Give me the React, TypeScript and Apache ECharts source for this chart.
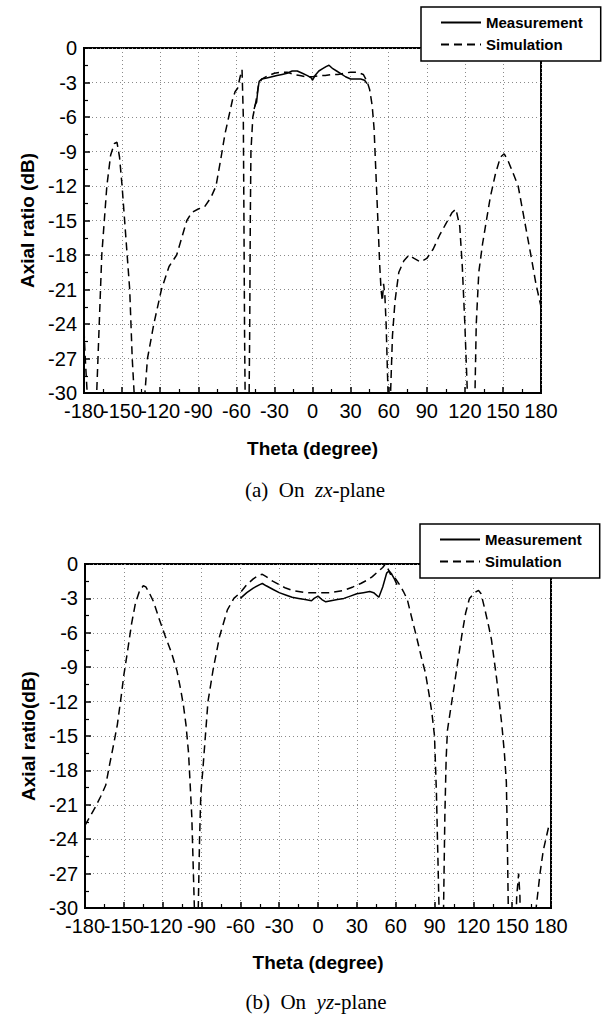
import React, { useEffect, useRef } from "react";
import * as echarts from "echarts";

// ---------- data (theta in degrees, axial ratio in dB) ----------
const xTicks = [-180, -150, -120, -90, -60, -30, 0, 30, 60, 90, 120, 150, 180];
const yTicks = [0, -3, -6, -9, -12, -15, -18, -21, -24, -27, -30];
const seriesNames = ["Measurement", "Simulation"];

// (a) zx-plane
const zxMeasurement: number[][] = [
  [-46, -5.3], [-45, -4.9], [-44, -4.7], [-43, -3.6], [-42, -2.9], [-40, -2.7],
  [-36, -2.6], [-32, -2.5], [-28, -2.4], [-24, -2.3], [-20, -2.2], [-16, -2.0],
  [-12, -2.0], [-8, -2.2], [-4, -2.4], [-1, -2.6], [0, -2.8], [2, -2.4],
  [5, -2.0], [8, -1.8], [11, -1.6], [13, -1.5], [16, -1.8], [19, -2.0],
  [22, -2.2], [26, -2.5], [30, -2.7], [34, -2.7], [38, -2.7], [41, -2.8], [43, -3.1],
];
const zxSimulation: number[][] = [
  [-180, -24.5], [-179, -27], [-177.5, -30], [-177, -33], [-171, -33], [-170, -30],
  [-169, -27], [-168, -24], [-166, -18], [-164, -15], [-162, -12], [-159, -9.3],
  [-156, -8.3], [-154, -8.2], [-152, -9.5], [-150, -12], [-148, -15], [-146, -18],
  [-144, -21], [-143, -24], [-142, -27], [-140.5, -30], [-139, -33], [-134, -33],
  [-132, -30], [-130, -27], [-125, -24], [-119, -21], [-113, -19], [-107, -18],
  [-103, -16.5], [-99, -15], [-95, -14.3], [-90, -14], [-85, -13.8], [-80, -13],
  [-76, -12], [-72, -9.5], [-69, -7.5], [-66, -6], [-63, -4.5], [-61, -3.8],
  [-59, -3.5], [-57, -2.5], [-55.5, -1.9], [-54.5, -6], [-54, -15], [-53.5, -25],
  [-53, -31], [-50, -31], [-49.5, -25], [-49, -15], [-48.5, -9], [-47, -6],
  [-45.5, -5.2], [-44, -4.3], [-42.5, -3.2], [-40, -2.7], [-35, -2.4], [-30, -2.2],
  [-25, -2.1], [-20, -2.1], [-15, -2.3], [-10, -2.4], [-5, -2.5], [0, -2.5],
  [5, -2.4], [10, -2.4], [15, -2.3], [20, -2.3], [25, -2.2], [30, -2.1],
  [35, -2.1], [40, -2.3], [43, -2.9], [45, -3.6], [47, -5], [48.5, -7],
  [50, -11], [51.5, -15], [53, -19], [54, -21], [55, -22], [56, -20.5],
  [57, -21.5], [58, -24], [59.5, -30], [60.5, -33], [61.5, -30], [63, -25],
  [65, -22], [68, -19.5], [72, -18.5], [76, -18], [80, -18.3], [85, -18.6],
  [90, -18.3], [95, -17.5], [100, -16.3], [105, -15.3], [110, -14.3], [113, -14],
  [116, -15.5], [118, -19], [120, -24], [122, -30], [123, -33], [127, -33],
  [128, -30], [129, -24], [131, -19.5], [134, -17], [137, -15], [140, -13],
  [144, -11], [148, -9.5], [151, -9.2], [154, -9.8], [157, -10.6], [162, -12],
  [167, -15], [172, -18], [176, -20.5], [180, -22.5],
];

// (b) yz-plane
const yzMeasurement: number[][] = [
  [-60, -3.0], [-55, -2.5], [-50, -2.1], [-45, -1.8], [-43, -1.7], [-40, -1.9],
  [-35, -2.2], [-30, -2.5], [-25, -2.7], [-20, -2.9], [-15, -3.0], [-10, -3.1],
  [-5, -3.2], [-3, -3.0], [0, -2.8], [3, -3.1], [6, -3.3], [10, -3.2],
  [15, -3.1], [20, -3.0], [25, -2.8], [30, -2.6], [35, -2.5], [40, -2.4],
  [43, -2.5], [47, -2.9], [50, -2.0], [53, -0.8], [55, -0.6], [57, -0.9],
  [59, -1.3], [61, -1.8],
];
const yzSimulation: number[][] = [
  [-180, -22.8], [-176, -22], [-172, -21.2], [-168, -20.3], [-164, -19.3],
  [-161, -17.5], [-158, -15.8], [-155, -14], [-152, -11.5], [-150, -9.7],
  [-147, -7.5], [-144, -5.2], [-141, -3.4], [-138, -2.4], [-135, -1.9],
  [-133, -2.0], [-130, -2.6], [-127, -3.3], [-123, -4.7], [-118, -6.3],
  [-113, -7.8], [-109, -9.3], [-106, -11], [-104, -12.3], [-102, -14],
  [-100, -16.5], [-99, -18.7], [-97.5, -22], [-96.5, -26], [-95.5, -30],
  [-95, -33], [-93, -33], [-92.5, -30], [-91.5, -24], [-90.5, -20], [-89, -18],
  [-87, -15], [-85, -12], [-81, -9.2], [-76, -6.3], [-70, -4], [-65, -3.0],
  [-60, -2.5], [-55, -1.8], [-50, -1.3], [-46, -1.0], [-43, -0.9], [-40, -1.1],
  [-35, -1.5], [-30, -1.8], [-25, -2.1], [-20, -2.3], [-10, -2.5], [0, -2.5],
  [10, -2.5], [20, -2.3], [27, -2.0], [33, -1.7], [38, -1.4], [42, -1.1],
  [46, -0.7], [50, -0.3], [52, 0], [54, -0.4], [56, -0.9], [58, -0.9],
  [60, -1.3], [63, -1.8], [66, -2.4], [69, -3.1], [72, -4.5], [76, -6.3],
  [80, -8.2], [83, -9.5], [86, -11.5], [88, -13], [90, -15], [91.5, -20],
  [92.5, -25], [93.5, -30], [94, -33], [96, -33], [97, -30], [98, -22],
  [99, -17], [100, -14.5], [102, -13], [105, -10.8], [108, -8.5], [111, -6.3],
  [114, -4.3], [117, -3.0], [121, -2.5], [124, -2.3], [126, -2.6], [129, -4],
  [132, -5.5], [134, -6.6], [136, -8.3], [138, -10], [140, -12], [142, -14],
  [144, -16.5], [145.5, -19], [146, -22], [146.5, -26], [147, -30], [147.5, -33],
  [152.5, -33], [153.5, -29], [155, -27], [156, -29], [156.5, -33], [167, -33],
  [168.5, -30], [171.5, -27], [174, -25], [176, -24], [178, -23], [180, -22.5],
];

const SANS = "'Liberation Sans', Arial, sans-serif";
const SERIF = "'Liberation Serif', 'Times New Roman', serif";

const xLabelStyle = { fontFamily: SANS, fontSize: 20, color: "#000", margin: 8 };

// main x axis: all labels except the first one (ECharts would otherwise drop an overlapping neighbour)
function makeXAxis(gridIndex: number, nameGap: number) {
  return {
    type: "value",
    gridIndex,
    position: "bottom",
    min: xTicks[0],
    max: xTicks[xTicks.length - 1],
    interval: 30,
    name: "Theta (degree)",
    nameLocation: "middle",
    nameGap,
    nameTextStyle: { fontFamily: SANS, fontWeight: "bold", fontSize: 19, color: "#000" },
    axisLine: { show: true, onZero: false, lineStyle: { color: "#000", width: 2 } },
    axisTick: { show: true, inside: true, length: 6, lineStyle: { color: "#000", width: 1.5 } },
    minorTick: { show: true, splitNumber: 2, length: 4, lineStyle: { color: "#000", width: 1.2 } },
    axisLabel: { ...xLabelStyle, hideOverlap: false, showMinLabel: false, showMaxLabel: true },
    splitLine: { show: true, lineStyle: { color: "#8a8a8a", width: 1, type: [1, 3] } },
  };
}

// companion x axis that only carries the first tick label
function makeXAxisFirstLabel(gridIndex: number) {
  return {
    type: "value",
    gridIndex,
    position: "bottom",
    offset: 0,
    min: xTicks[0],
    max: xTicks[xTicks.length - 1],
    interval: 30,
    axisLine: { show: false, onZero: false },
    axisTick: { show: false },
    minorTick: { show: false },
    splitLine: { show: false },
    axisLabel: {
      ...xLabelStyle,
      hideOverlap: false,
      showMinLabel: true,
      formatter: (v: number) => (v === xTicks[0] ? String(v) : ""),
    },
  };
}

function makeYAxis(gridIndex: number, name: string, nameGap: number) {
  return {
    type: "value",
    gridIndex,
    min: yTicks[yTicks.length - 1],
    max: yTicks[0],
    interval: 3,
    name,
    nameLocation: "middle",
    nameGap,
    nameTextStyle: { fontFamily: SANS, fontWeight: "bold", fontSize: 19, color: "#000" },
    axisLine: { show: true, onZero: false, lineStyle: { color: "#000", width: 2 } },
    axisTick: { show: true, inside: true, length: 6, lineStyle: { color: "#000", width: 1.5 } },
    minorTick: { show: true, splitNumber: 2, length: 4, lineStyle: { color: "#000", width: 1.2 } },
    axisLabel: { fontFamily: SANS, fontSize: 20, color: "#000", margin: 7, showMinLabel: true, showMaxLabel: true },
    splitLine: { show: true, lineStyle: { color: "#8a8a8a", width: 1, type: [1, 3] } },
  };
}

function makeLegend(left: number, top: number) {
  return {
    left,
    top,
    orient: "vertical",
    data: seriesNames,
    padding: [8, 18, 9, 19],
    itemGap: 7,
    itemWidth: 40,
    itemHeight: 15,
    backgroundColor: "#fff",
    borderColor: "#000",
    borderWidth: 1.5,
    borderRadius: 0,
    selectedMode: false,
    itemStyle: { opacity: 0 },
    textStyle: { fontFamily: SANS, fontWeight: "bold", fontSize: 15, color: "#000" },
    z: 10,
  };
}

const solid = { color: "#000", width: 1.5, type: "solid" };
const dashed = { color: "#000", width: 1.5, type: [8, 5] };

function caption(letter: string, plane: string) {
  return {
    text: `{n|(${letter})  On  }{i|${plane}}{n|-plane}`,
    align: "center",
    verticalAlign: "middle",
    rich: {
      n: { fontFamily: SERIF, fontSize: 21, fill: "#000" },
      i: { fontFamily: SERIF, fontSize: 21, fontStyle: "italic", fill: "#000" },
    },
  };
}

export default function App() {
  const ref = useRef<HTMLDivElement>(null);
  useEffect(() => {
    if (!ref.current) return;
    const chart = echarts.init(ref.current, null, { renderer: "svg" });
    chart.setOption({
      animation: false,
      backgroundColor: "#fff",
      grid: [
        { left: 84, top: 48, width: 457, height: 345, show: true, borderColor: "#000", borderWidth: 2, backgroundColor: "transparent" },
        { left: 85, top: 564, width: 466, height: 344, show: true, borderColor: "#000", borderWidth: 2, backgroundColor: "transparent" },
      ],
      xAxis: [makeXAxis(0, 46), makeXAxis(1, 45), makeXAxisFirstLabel(0), makeXAxisFirstLabel(1)],
      yAxis: [makeYAxis(0, "Axial ratio (dB)", 47), makeYAxis(1, "Axial ratio(dB)", 47)],
      legend: [makeLegend(421, 7), makeLegend(420, 524)],
      series: [
        { name: seriesNames[0], type: "line", xAxisIndex: 0, yAxisIndex: 0, data: zxMeasurement, symbol: "none", lineStyle: solid, itemStyle: { color: "#000" }, clip: true, z: 3 },
        { name: seriesNames[1], type: "line", xAxisIndex: 0, yAxisIndex: 0, data: zxSimulation, symbol: "none", lineStyle: dashed, itemStyle: { color: "#000" }, clip: true, z: 2 },
        { name: seriesNames[0], type: "line", xAxisIndex: 1, yAxisIndex: 1, data: yzMeasurement, symbol: "none", lineStyle: solid, itemStyle: { color: "#000" }, clip: true, z: 3 },
        { name: seriesNames[1], type: "line", xAxisIndex: 1, yAxisIndex: 1, data: yzSimulation, symbol: "none", lineStyle: dashed, itemStyle: { color: "#000" }, clip: true, z: 2 },
      ],
      graphic: [
        { type: "text", x: 315, y: 490, style: caption("a", "zx") },
        { type: "text", x: 316, y: 1002, style: caption("b", "yz") },
      ],
    });
    return () => chart.dispose();
  }, []);
  return (
    <div
      ref={ref}
      style={{ position: "absolute", left: 0, top: 0, width: 614, height: 1021, background: "#fff" }}
    />
  );
}
